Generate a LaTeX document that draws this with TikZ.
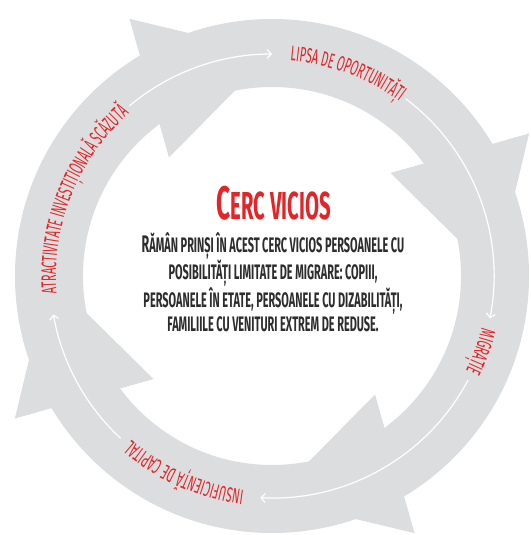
\documentclass[tikz,border=0pt]{standalone}
\usepackage{fontspec}
\newfontfamily\handfont{Fira Sans}[FakeStretch=0.52]
\usetikzlibrary{decorations.text, arrows.meta}

\definecolor{ringgrey}{RGB}{220,221,222}
\definecolor{cercred}{RGB}{227,37,40}
\definecolor{textgrey}{RGB}{45,45,45}

\tikzset{
  flow/.style = {white, line width=1.2pt, -{Straight Barb[length=4pt, width=9pt]}},
  ring label/.style = {decorate, decoration={text along path, text align=center,
      text color=cercred, text={|\fontsize{21}{21}\handfont|#1}}},
}

\begin{document}
\begin{tikzpicture}[x=1pt, y=1pt]
    \fill[white] (0,0) rectangle (530,535);
    \useasboundingbox (0,0) rectangle (530,535);
    \clip (0,0) rectangle (530,535);

    \begin{scope}[shift={(272,259)}]
        % Grey ring
        \fill[ringgrey, even odd rule] (0,0) circle[radius=257] (0,0) circle[radius=189];

        % Arrow heads, pointing clockwise
        \foreach \a in {90,0,-90,180}
            \fill[ringgrey] (\a:223) -- ({\a+29}:294) -- ({\a+41}:157) -- cycle;

        % Ends of the white arrows
        \coordinate (atr-end) at (130:222);
        \coordinate (lip-end) at (53:222);
        \coordinate (mig-end) at (-28:222);
        \coordinate (ins-end) at (227:222);

        % White arrows between the labels
        \draw[flow] (atr-end) arc[start angle=130, end angle=90, radius=222];
        \draw[flow] (lip-end) arc[start angle=53, end angle=-11, radius=222];
        \draw[flow] (mig-end) arc[start angle=-28, end angle=-93, radius=222];
        \draw[flow] (ins-end) arc[start angle=227, end angle=190, radius=222];

        % Labels along the ring
        \coordinate (atr-start) at (200:216);
        \coordinate (lip-start) at (105:216);
        \coordinate (mig-start) at (10:216);
        \coordinate (ins-start) at (280:216);

        \path[ring label={ATRACTIVITATE INVESTIȚIONALĂ SCĂZUTĂ}]
            (atr-start) arc[start angle=200, end angle=116, radius=216];
        \path[ring label={LIPSA DE OPORTUNITĂȚI}]
            (lip-start) arc[start angle=105, end angle=34, radius=216];
        \path[ring label={MIGRAȚIE}]
            (mig-start) arc[start angle=10, end angle=-50, radius=216];
        \path[ring label={INSUFICIENȚĂ DE CAPITAL}]
            (ins-start) arc[start angle=280, end angle=212, radius=216];
    \end{scope}

    % Title and text in the middle
    \node[anchor=base, inner sep=0, text=cercred, font=\handfont\bfseries] (title) at (274,315)
        {{\fontsize{47}{47}\selectfont C}{\fontsize{39}{39}\selectfont ERC VICIOS}};
    \node[anchor=base, inner sep=0, align=center, text=textgrey,
          font=\fontsize{21}{24.4}\handfont\bfseries] (body) at (273,203)
        {{\fontsize{24}{24}\selectfont R}ĂMÂN PRINȘI ÎN ACEST CERC VICIOS PERSOANELE CU\\
         POSIBILITĂȚI LIMITATE DE MIGRARE: COPIII,\\
         PERSOANELE ÎN ETATE, PERSOANELE CU DIZABILITĂȚI,\\
         FAMILIILE CU VENITURI EXTREM DE REDUSE.};
\end{tikzpicture}
\end{document}
